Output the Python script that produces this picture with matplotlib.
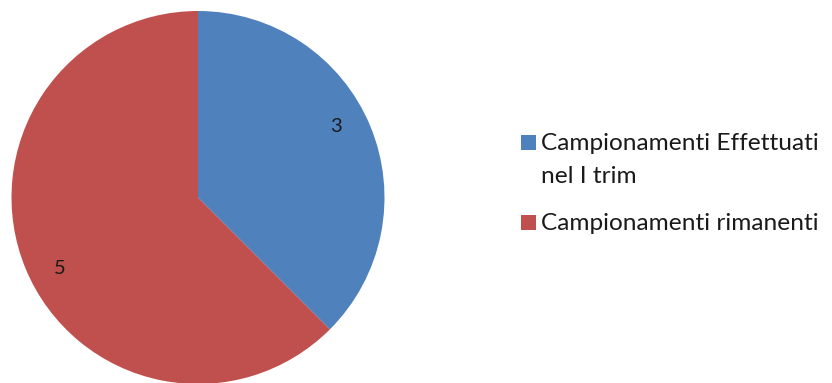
import matplotlib
matplotlib.use("Agg")
import numpy as np
import matplotlib.pyplot as plt
from matplotlib.patches import Rectangle

categories = ["Campionamenti Effettuati\nnel I trim", "Campionamenti rimanenti"]
values = [3, 5]
colors = ["#4F81BD", "#C0504D"]

W, H = 832, 383
fig = plt.figure(figsize=(W / 100, H / 100), dpi=100)
fig.patch.set_facecolor("white")

# pie geometry in pixels
cx, cy, r = 198, 383 - 197.5, 186.5
ax = fig.add_axes([0, 0, 1, 1])

wedges, texts, autotexts = ax.pie(
    values, colors=colors, startangle=90, counterclock=False,
    radius=1, autopct=lambda p: f"{p * sum(values) / 100:.0f}",
    pctdistance=0.83, textprops=dict(fontsize=14.5, family="Lato", color="#1a1a1a"),
    wedgeprops=dict(linewidth=0), frame=True)

# value labels sit a little counter-clockwise of each wedge's middle
for w, t in zip(wedges, autotexts):
    ang = np.deg2rad((w.theta1 + w.theta2) / 2 + 4.6)
    t.set_position((0.83 * np.cos(ang), 0.83 * np.sin(ang)))

ax.set_xlim(-cx / r, (W - cx) / r)
ax.set_ylim(-cy / r, (H - cy) / r)
ax.set_aspect("auto")
ax.axis("off")

# legend: coloured squares with labels, baselines in pixels from top
font = dict(fontsize=17.6, family="Lato", color="#1a1a1a")
baselines = [150, 230]
line_gap = 33
for base, lab, col in zip(baselines, categories, colors):
    fig.patches.append(Rectangle((521 / W, (H - base) / H), 15 / W, 15 / H,
                                 transform=fig.transFigure, facecolor=col,
                                 edgecolor="none"))
    for i, line in enumerate(lab.split("\n")):
        fig.text(541 / W, (H - base - i * line_gap) / H, line,
                 va="baseline", ha="left", **font)

fig.savefig("out.png", dpi=100)
